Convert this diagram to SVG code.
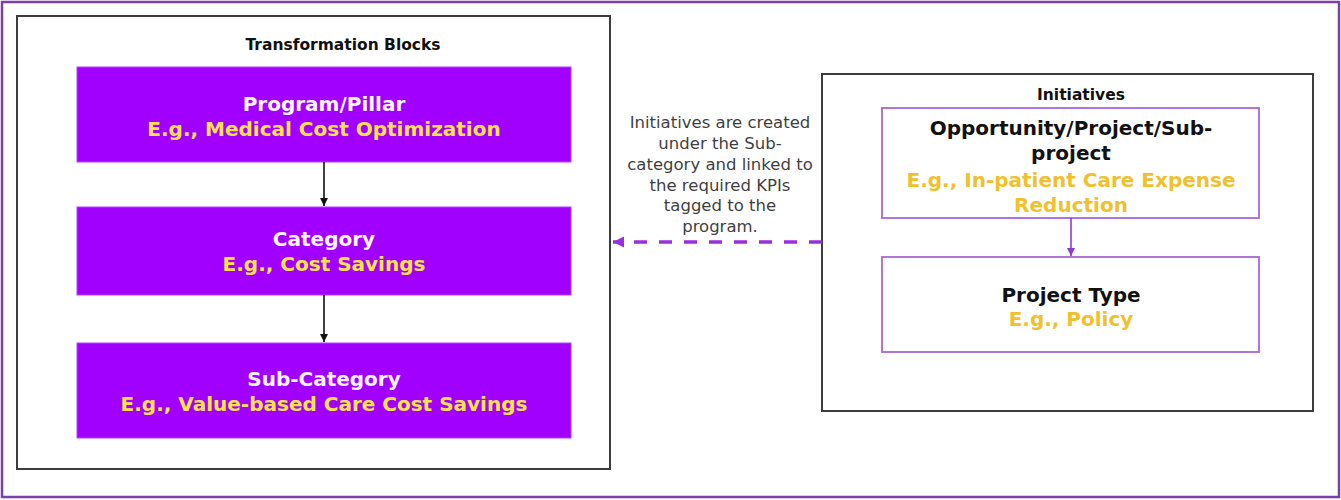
<svg xmlns="http://www.w3.org/2000/svg" width="1341" height="500" viewBox="0 0 1341 500">
  <defs>
    <style>
      .frame { fill: #ffffff; stroke: #3c3c3c; stroke-width: 2; }
      .pbox { fill: #A100FF; stroke: #B040FF; stroke-width: 1; }
      .ibox { fill: #ffffff; stroke: #A866D8; stroke-width: 1.8; }
      .t { font-family: "DejaVu Sans", "Liberation Sans", sans-serif; text-anchor: middle; }
      .hdr { font-weight: bold; font-size: 15.5px; fill: #111111; }
      .ttl { font-weight: bold; font-size: 20px; }
      .w { fill: #FFF4FF; }
      .y1 { fill: #FFE14C; }
      .k { fill: #111111; }
      .y2 { fill: #EFC12E; }
      .note { font-size: 16.5px; fill: #3f3f3f; }
      .blk { stroke: #111111; stroke-width: 1.6; fill: none; }
      .pur { stroke: #8E3AD6; stroke-width: 1.6; fill: none; }
      .dash { stroke: #9A2FE0; stroke-width: 3.5; fill: none; stroke-dasharray: 13 12; }
    </style>
    <marker id="ahBlack" viewBox="0 0 10 10" refX="10" refY="5" markerWidth="5" markerHeight="5" markerUnits="strokeWidth" orient="auto">
      <path d="M0,0 L10,5 L0,10 z" fill="#111111"/>
    </marker>
    <marker id="ahPurple" viewBox="0 0 10 10" refX="10" refY="5" markerWidth="5" markerHeight="5" markerUnits="strokeWidth" orient="auto">
      <path d="M0,0 L10,5 L0,10 z" fill="#8E3AD6"/>
    </marker>
    <marker id="ahDash" viewBox="0 0 10 10" refX="10" refY="5" markerWidth="3.2" markerHeight="3.2" markerUnits="strokeWidth" orient="auto">
      <path d="M0,0 L10,5 L0,10 z" fill="#9A2FE0"/>
    </marker>
  </defs>

  <rect x="0" y="0" width="1341" height="500" fill="#ffffff"/>
  <rect x="2" y="2" width="1337" height="495" fill="none" stroke="#7B3FAA" stroke-width="2.5"/>

  <g id="transformation-blocks">
    <rect class="frame" x="17" y="16" width="593" height="453"/>
    <text class="t hdr" x="343" y="50">Transformation Blocks</text>
  </g>

  <g id="program-pillar">
    <rect class="pbox" x="77" y="67" width="494" height="95"/>
    <text class="t ttl w" x="324" y="111">Program/Pillar</text>
    <text class="t ttl y1" x="324" y="136">E.g., Medical Cost Optimization</text>
  </g>

  <g id="category">
    <rect class="pbox" x="77" y="207" width="494" height="88"/>
    <text class="t ttl w" x="324" y="246">Category</text>
    <text class="t ttl y1" x="324" y="271">E.g., Cost Savings</text>
  </g>

  <g id="sub-category">
    <rect class="pbox" x="77" y="343" width="494" height="95"/>
    <text class="t ttl w" x="324" y="386">Sub-Category</text>
    <text class="t ttl y1" x="324" y="411">E.g., Value-based Care Cost Savings</text>
  </g>

  <g id="initiatives">
    <rect class="frame" x="822" y="74" width="491" height="337"/>
    <text class="t hdr" x="1081" y="100">Initiatives</text>
  </g>

  <g id="opportunity-project">
    <rect class="ibox" x="882" y="108" width="377" height="110"/>
    <text class="t ttl k" x="1071" y="135">Opportunity/Project/Sub-</text>
    <text class="t ttl k" x="1071" y="160">project</text>
    <text class="t ttl y2" x="1071" y="187">E.g., In-patient Care Expense</text>
    <text class="t ttl y2" x="1071" y="212">Reduction</text>
  </g>

  <g id="project-type">
    <rect class="ibox" x="882" y="257" width="377" height="95"/>
    <text class="t ttl k" x="1071" y="302">Project Type</text>
    <text class="t ttl y2" x="1071" y="326">E.g., Policy</text>
  </g>

  <g id="note">
    <text class="t note" x="720" y="128">Initiatives are created</text>
    <text class="t note" x="720" y="149">under the Sub-</text>
    <text class="t note" x="720" y="170">category and linked to</text>
    <text class="t note" x="720" y="191">the required KPIs</text>
    <text class="t note" x="720" y="211">tagged to the</text>
    <text class="t note" x="720" y="232">program.</text>
  </g>

  <g id="connectors">
    <line class="blk" x1="324" y1="162" x2="324" y2="206" marker-end="url(#ahBlack)"/>
    <line class="blk" x1="324" y1="295" x2="324" y2="342" marker-end="url(#ahBlack)"/>
    <line class="pur" x1="1071" y1="218" x2="1071" y2="256" marker-end="url(#ahPurple)"/>
    <line class="dash" x1="822" y1="242" x2="613" y2="242" marker-end="url(#ahDash)"/>
  </g>
</svg>
